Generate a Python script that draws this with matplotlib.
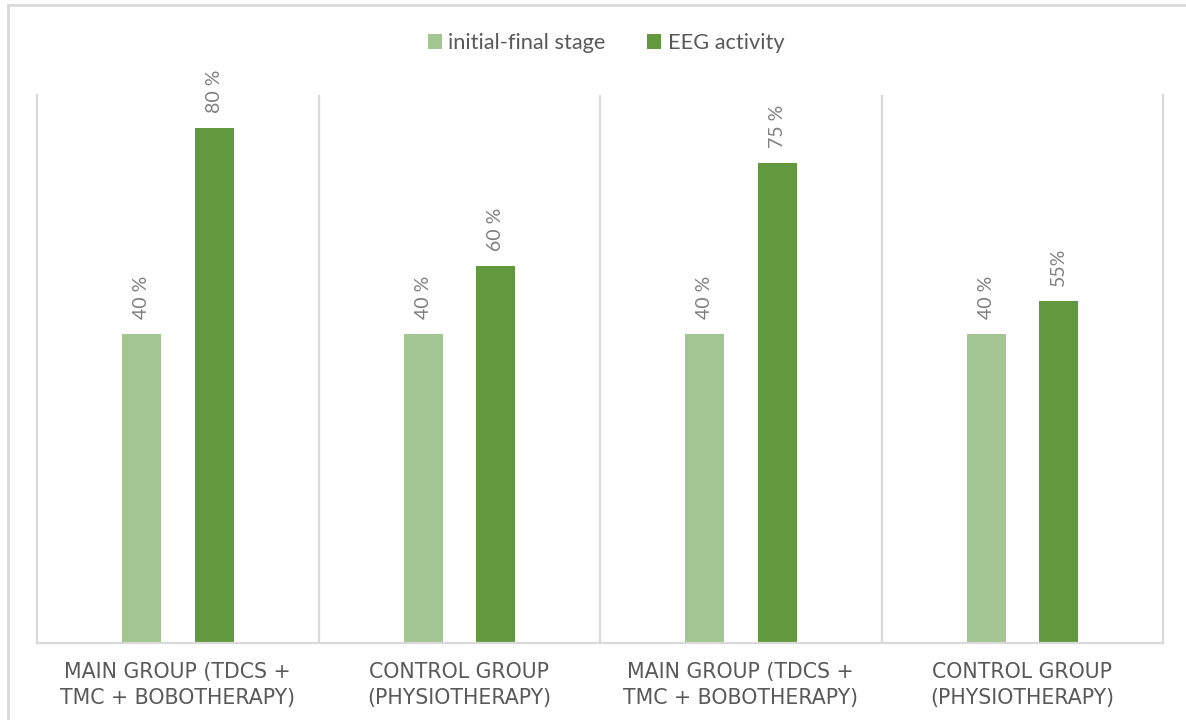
import matplotlib.pyplot as plt
from matplotlib.lines import Line2D
import numpy as np

plt.rcParams['font.family'] = ['Lato', 'DejaVu Sans']

categories = ["MAIN GROUP (TDCS +\nTMC + BOBOTHERAPY)", "CONTROL GROUP\n(PHYSIOTHERAPY)",
              "MAIN GROUP (TDCS +\nTMC + BOBOTHERAPY)", "CONTROL GROUP\n(PHYSIOTHERAPY)"]
series_names = ["initial-final stage", "EEG activity"]
# bar heights as drawn in the picture (the typed labels don't match the heights exactly)
initial_final = [48, 48, 48, 48]
eeg_activity = [80, 58.6, 74.6, 53.2]
initial_labels = ["40 %", "40 %", "40 %", "40 %"]
eeg_labels = ["80 %", "60 %", "75 %", "55%"]

light = '#A2C591'
dark = '#62993E'
grid = '#D9D9D9'
txt = '#595959'

fig = plt.figure(figsize=(11.86, 7.2), dpi=100)
ax = fig.add_axes([37 / 1186, 1 - 643 / 720, (1163 - 37) / 1186, (643 - 95) / 720])

x = np.arange(len(categories))
w = 0.139
b1 = ax.bar(x - 0.128, initial_final, w, color=light, label=series_names[0])
b2 = ax.bar(x + 0.13, eeg_activity, w, color=dark, label=series_names[1])

for bars, labs in [(b1, initial_labels), (b2, eeg_labels)]:
    for r, lab in zip(bars, labs):
        ax.annotate(lab, (r.get_x() + r.get_width() / 2, r.get_height()),
                    xytext=(0, 11), textcoords='offset points', rotation=90,
                    ha='center', va='bottom', fontsize=14, color='#7F7F7F')

ax.set_xlim(-0.5, 3.5)
ax.set_ylim(0, 85.2)
for b in [0.5, 1.5, 2.5]:
    ax.axvline(b, color=grid, lw=1.6, zorder=0)
for s in ['left', 'right', 'bottom']:
    ax.spines[s].set_color(grid)
    ax.spines[s].set_linewidth(1.6)
ax.spines['top'].set_visible(False)
ax.set_yticks([])
ax.set_xticks(x)
ax.set_xticklabels(categories, fontsize=14.8, color=txt, linespacing=1.33,
                   family='DejaVu Sans')
ax.tick_params(axis='x', length=0, pad=14)

fig.legend(loc='center', bbox_to_anchor=(606 / 1186, 1 - 43 / 720), ncol=2, frameon=False,
           fontsize=15.7, labelcolor=txt, handlelength=0.65, handleheight=0.65,
           handletextpad=0.3, columnspacing=1.9)

# outer chart border
fig.add_artist(Line2D([8 / 1186, 8 / 1186], [0, 1 - 5 / 720], color=grid, lw=2))
fig.add_artist(Line2D([8 / 1186, 1], [1 - 5 / 720, 1 - 5 / 720], color=grid, lw=2))

fig.savefig('out.png', dpi=100)
